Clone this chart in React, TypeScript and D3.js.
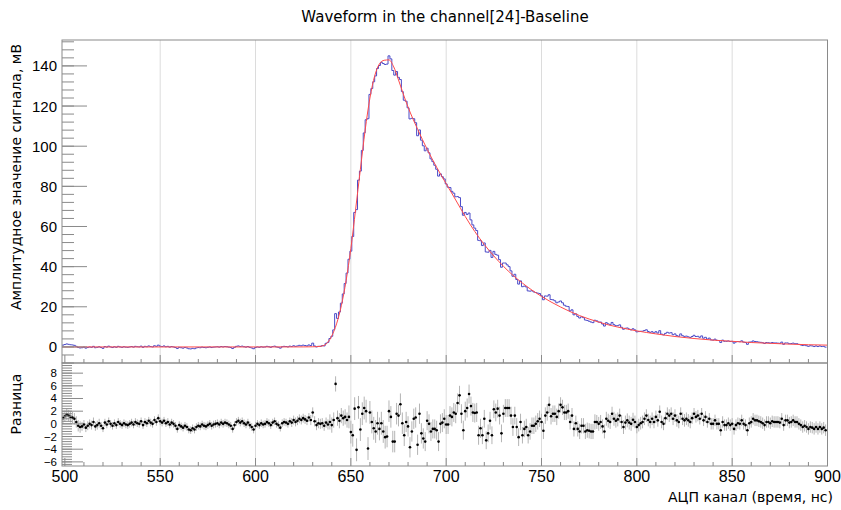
import React from "react";
import * as d3 from "d3";

// ---------------- data ----------------
const BIN_FIRST_CENTER = 499; // bins are 1 ns wide, centred on integers 499..899

const histValues: number[] = [
  0.9, 1.2, 1.5, 1.3, 1.1, 1.0, 0.8, 0.3, -0.3, -0.5,
  -0.4, -0.1, -0.6, -0.3, 0.0, -0.2, 0.3, -0.4, -0.2, 0.1,
  -0.3, -0.7, 0.2, -0.1, 0.4, 0.0, -0.3, 0.1, -0.2, 0.3,
  0.0, -0.2, 0.1, -0.1, -0.2, 0.0, 0.2, -0.1, 0.3, 0.1,
  0.0, 0.4, -0.2, 0.3, 0.1, 0.5, 0.2, 0.0, 0.6, 0.3,
  0.9, 0.4, 0.2, 0.5, 0.1, 0.3, -0.1, 0.2, 0.0, -0.3,
  -0.8, -0.2, -0.4, -0.6, -0.3, -0.5, -0.9, -1.0, -0.7, -0.9,
  -0.5, -0.3, -0.4, -0.1, -0.3, -0.4, -0.2, 0.0, -0.3, -0.1,
  0.0, 0.1, -0.1, 0.2, 0.0, 0.2, 0.1, -0.1, -0.3, -0.8,
  -0.2, 0.3, 0.5, 0.2, 0.4, 0.1, -0.1, 0.2, -0.2, -0.5,
  -0.9, -0.3, 0.0, -0.2, 0.1, -0.1, 0.0, 0.3, 0.1, -0.2,
  0.2, 0.4, 0.0, -0.2, -0.6, 0.1, 0.3, 0.2, 0.0, 0.4,
  0.2, 0.6, 0.3, 0.5, 0.8, 0.6, 0.9, 0.7, 0.5, 1.0,
  0.7, 1.9, 0.5, 0.0, 0.3, 0.3, 0.65, 0.5, 1.8, 2.3,
  4.2, 5.3, 8.5, 16.6, 14.2, 17.4, 21.8, 26.4, 31.6, 36.8,
  43.7, 47.7, 55.0, 67.0, 68.4, 83.1, 87.6, 97.9, 106.6, 113.2,
  113.7, 125.8, 128.7, 132.1, 135.0, 138.7, 140.2, 141.8, 141.2, 140.7,
  140.9, 145.0, 143.5, 137.7, 135.4, 137.2, 134.3, 133.2, 127.2, 122.9,
  122.4, 119.1, 113.6, 113.9, 113.7, 111.7, 105.2, 108.1, 103.0, 100.2,
  97.7, 99.0, 96.7, 93.7, 92.3, 90.5, 88.5, 85.1, 86.2, 84.8,
  83.7, 81.2, 79.6, 79.4, 77.5, 76.6, 74.8, 74.9, 74.4, 69.9,
  65.6, 67.0, 66.0, 66.7, 63.3, 60.8, 59.2, 58.0, 53.1, 52.9,
  50.5, 51.8, 47.3, 47.2, 48.1, 44.6, 47.6, 46.1, 45.7, 43.5,
  39.7, 41.8, 41.8, 40.9, 40.0, 37.9, 35.2, 36.2, 33.6, 31.3,
  32.9, 30.0, 30.3, 29.9, 27.9, 27.8, 28.0, 27.4, 27.1, 26.8,
  26.6, 25.5, 23.5, 25.4, 25.3, 26.0, 23.6, 23.5, 23.0, 22.0,
  22.4, 22.9, 22.0, 20.8, 20.3, 20.1, 17.9, 18.5, 16.0, 16.5,
  15.2, 14.4, 15.0, 14.6, 13.4, 13.2, 12.8, 12.4, 12.1, 13.3,
  13.0, 12.4, 12.4, 11.4, 10.4, 12.1, 11.5, 11.1, 12.2, 11.1,
  10.6, 10.6, 11.0, 9.8, 8.8, 9.3, 9.45, 8.9, 8.5, 9.05,
  8.5, 7.5, 7.65, 7.8, 7.85, 8.2, 8.55, 7.7, 7.25, 7.6,
  6.95, 7.6, 6.9, 8.1, 6.4, 6.0, 6.75, 7.3, 6.9, 7.1,
  6.1, 6.5, 5.65, 5.3, 6.5, 5.6, 5.25, 5.4, 5.05, 4.7,
  5.2, 5.8, 5.2, 5.3, 4.8, 5.5, 4.35, 4.8, 3.9, 4.4,
  3.5, 3.4, 3.9, 3.3, 3.2, 2.2, 3.4, 2.8, 2.8, 3.0,
  2.7, 2.8, 1.9, 2.5, 2.7, 2.6, 3.05, 2.4, 2.2, 1.3,
  2.4, 2.5, 3.0, 2.7, 2.6, 2.4, 2.3, 2.1, 1.7, 2.2,
  2.1, 1.9, 2.2, 2.0, 2.0, 1.9, 1.8, 2.4, 1.3, 2.0,
  2.0, 1.6, 1.7, 1.9, 1.6, 1.6, 1.25, 1.0, 0.7, 0.9,
  0.6, 0.3, 0.6, 0.5, 0.2, 0.5, 0.2, 0.5, 0.2, 0.3,
  -0.1,
];

const residValues: number[] = [
  0.9, 1.2, 1.5, 1.3, 1.1, 1.0, 0.8, 0.3, -0.3, -0.5,
  -0.4, -0.1, -0.6, -0.3, 0.0, -0.2, 0.3, -0.4, -0.2, 0.1,
  -0.3, -0.7, 0.2, -0.1, 0.4, 0.0, -0.3, 0.1, -0.2, 0.3,
  0.0, -0.2, 0.1, -0.1, -0.2, 0.0, 0.2, -0.1, 0.3, 0.1,
  0.0, 0.4, -0.2, 0.3, 0.1, 0.5, 0.2, 0.0, 0.6, 0.3,
  0.9, 0.4, 0.2, 0.5, 0.1, 0.3, -0.1, 0.2, 0.0, -0.3,
  -0.8, -0.2, -0.4, -0.6, -0.3, -0.5, -0.9, -1.0, -0.7, -0.9,
  -0.5, -0.3, -0.4, -0.1, -0.3, -0.4, -0.2, 0.0, -0.3, -0.1,
  0.0, 0.1, -0.1, 0.2, 0.0, 0.2, 0.1, -0.1, -0.3, -0.8,
  -0.2, 0.3, 0.5, 0.2, 0.4, 0.1, -0.1, 0.2, -0.2, -0.5,
  -0.9, -0.3, 0.0, -0.2, 0.1, -0.1, 0.0, 0.3, 0.1, -0.2,
  0.2, 0.4, 0.0, -0.2, -0.6, 0.1, 0.3, 0.2, 0.0, 0.4,
  0.2, 0.6, 0.3, 0.5, 0.8, 0.6, 0.9, 0.7, 0.5, 1.0,
  0.6, 1.8, 0.4, -0.2, 0.1, 0.0, 0.1, -0.3, 0.2, -0.1,
  0.3, -0.2, 0.6, 6.3, 0.9, 0.5, 1.3, 0.9, 1.1, 0.6,
  1.1, -1.3, -1.8, 2.4, -4.1, 2.6, -0.9, 1.6, 2.5, 2.0,
  -3.9, 1.8, 0.3, -0.7, -1.2, 0.1, -0.8, 0.1, -1.2, -2.1,
  -2.0, 2.0, 1.1, -2.8, -2.8, 1.6, 1.3, 3.1, 0.1, -1.8,
  0.3, -0.4, -3.7, -1.2, 0.8, 1.0, -3.3, 1.6, -1.5, -2.3,
  -2.8, 0.5, 0.0, -1.2, -0.8, -0.8, -1.0, -2.8, 0.0, 0.2,
  0.8, -0.1, -0.1, 1.3, 1.1, 1.8, 1.6, 3.3, 4.5, 1.6,
  -1.0, 2.0, 2.5, 4.7, 2.8, 1.8, 1.7, 1.8, -1.8, -0.7,
  -1.8, 0.8, -2.6, -1.5, 0.5, -1.8, 2.3, 1.8, 2.4, 1.3,
  -1.5, 1.6, 2.5, 2.5, 2.5, 1.3, -0.5, 1.3, -0.5, -2.1,
  0.3, -1.8, -0.8, -0.5, -1.8, -1.2, -0.3, -0.3, 0.0, 0.4,
  0.8, 0.3, -1.1, 1.3, 1.8, 3.0, 1.2, 1.6, 1.6, 1.1,
  2.0, 3.0, 2.6, 1.8, 1.8, 2.0, 0.3, 1.3, -0.8, 0.1,
  -0.8, -1.2, -0.3, -0.3, -1.2, -1.0, -1.1, -1.2, -1.2, 0.3,
  0.3, 0.0, 0.3, -0.4, -1.2, 0.8, 0.5, 0.3, 1.6, 0.8,
  0.5, 0.7, 1.3, 0.3, -0.5, 0.2, 0.55, 0.2, 0.0, 0.65,
  0.3, -0.5, -0.2, 0.1, 0.3, 0.8, 1.3, 0.6, 0.3, 0.8,
  0.3, 1.1, 0.55, 1.9, 0.3, 0.0, 0.9, 1.6, 1.3, 1.6,
  0.8, 1.3, 0.55, 0.3, 1.6, 0.8, 0.55, 0.8, 0.55, 0.3,
  0.9, 1.6, 1.1, 1.3, 0.8, 1.6, 0.55, 1.1, 0.3, 0.8,
  0.0, 0.0, 0.55, 0.0, 0.0, -1.0, 0.3, -0.2, -0.2, 0.1,
  -0.2, 0.0, -0.8, -0.2, 0.1, 0.0, 0.55, 0.0, -0.2, -1.0,
  0.1, 0.3, 0.8, 0.55, 0.55, 0.4, 0.3, 0.1, -0.2, 0.3,
  0.3, 0.1, 0.4, 0.3, 0.3, 0.3, 0.2, 0.8, -0.2, 0.55,
  0.55, 0.2, 0.3, 0.55, 0.3, 0.3, 0.0, -0.2, -0.5, -0.3,
  -0.5, -0.8, -0.5, -0.6, -0.8, -0.5, -0.8, -0.5, -0.8, -0.6,
  -1.0,
];

// error bar half-length of the residuals, one value per block of 10 bins
const residErrorBlocks: number[] = [
  0.9, 0.7, 0.6, 0.6, 0.6, 0.6, 0.6, 0.6, 0.6, 0.6,
  0.6, 0.6, 0.7, 0.8, 1.2, 1.8, 1.8, 1.7, 1.6, 1.5,
  1.5, 1.5, 1.4, 1.4, 1.3, 1.3, 1.2, 1.2, 1.1, 1.1,
  1.0, 1.0, 1.0, 0.9, 0.9, 0.9, 0.9, 0.9, 0.9, 0.9,
  0.9,
];

// fitted curve, sampled points (time, amplitude)
const fitX: number[] = [
  498.5, 520, 560, 600, 625, 630, 632, 634, 636, 638, 640, 642.5, 645, 647.5,
  650, 652.5, 655, 657.5, 660, 662.5, 665, 667.5, 670, 672.5, 675, 677.5, 680,
  685, 690, 695, 700, 705, 710, 715, 720, 725, 730, 735, 740, 745, 750, 755,
  760, 765, 770, 775, 780, 785, 790, 795, 800, 810, 820, 830, 840, 850, 860,
  870, 880, 890, 900,
];
const fitY: number[] = [
  0, 0, 0, 0, 0.02, 0.08, 0.15, 0.3, 0.8, 2.4, 5.5, 11.5, 20.5, 33,
  49, 68.5, 88.5, 108, 124, 135, 141, 142.8, 143, 139.5, 133, 126, 119.5,
  108.5, 98.5, 89.5, 81.3, 73.2, 65, 57.5, 51, 45.3, 40.2, 35.7, 31.8, 28.3, 25.2, 22.4,
  19.9, 17.6, 15.6, 13.9, 12.4, 11.0, 9.9, 8.9, 8.0, 6.5, 5.2, 4.2, 3.4, 2.8, 2.2,
  1.8, 1.4, 1.1, 0.9,
];

const xTickValues = [500, 550, 600, 650, 700, 750, 800, 850, 900];
const yTopTickValues = [0, 20, 40, 60, 80, 100, 120, 140];
const yBotTickValues = [-6, -4, -2, 0, 2, 4, 6, 8];

const TITLE = "Waveform in the channel[24]-Baseline";
const Y_TITLE_TOP = "Амплитудное значение сигнала, мВ";
const Y_TITLE_BOT = "Разница";
const X_TITLE = "АЦП канал (время, нс)";

// ---------------- chart ----------------
const W = 841;
const H = 510;
const LEFT = 62;
const RIGHT = 827.5;
const TOP = 40;
const MID = 363;
const BOTTOM = 466;

const AXIS = "#8a8a8a";
const GRID = "#dcdcdc";
const TICK_FONT = "'Liberation Sans', Arial, sans-serif";
const TITLE_FONT = "'DejaVu Sans', sans-serif";

export default function App() {
  const x = d3.scaleLinear().domain([498.5, 900]).range([LEFT, RIGHT]);
  const yT = d3.scaleLinear().domain([-8, 152.9]).range([MID, TOP]);
  const yB = d3.scaleLinear().domain([-6.65, 9.6]).range([BOTTOM, MID]);

  const histPts: [number, number][] = histValues.map((v, i) => [BIN_FIRST_CENTER + i - 0.5, v]);
  histPts.push([BIN_FIRST_CENTER + histValues.length - 0.5, histValues[histValues.length - 1]]);
  const histPath =
    d3.line<[number, number]>().x((d) => x(d[0])).y((d) => yT(d[1])).curve(d3.curveStepAfter)(histPts) || "";

  const fitPts: [number, number][] = fitX.map((t, i) => [t, fitY[i]]);
  const fitPath =
    d3.line<[number, number]>().x((d) => x(d[0])).y((d) => yT(d[1])).curve(d3.curveMonotoneX)(fitPts) || "";

  const xMinor = d3.range(50, 91).map((k) => k * 10);
  const yTopMinor = d3.range(-2, 39).map((k) => k * 4);
  const yBotMinor = d3.range(-16, 24).map((k) => +(k * 0.4).toFixed(1));
  const gridXs = xTickValues.filter((v) => v > 500 && v < 900);

  const fmt = (v: number) => (v < 0 ? "\u2212" + Math.abs(v) : String(v));

  return (
    <svg
      width={W}
      height={H}
      viewBox={`0 0 ${W} ${H}`}
      style={{ position: "absolute", left: 0, top: 0, background: "#fff" }}
    >
      <defs>
        <clipPath id="clipTop">
          <rect x={LEFT} y={TOP} width={RIGHT - LEFT} height={MID - TOP} />
        </clipPath>
        <clipPath id="clipBot">
          <rect x={LEFT} y={MID} width={RIGHT - LEFT} height={BOTTOM - MID} />
        </clipPath>
      </defs>
      <rect x={0} y={0} width={W} height={H} fill="#fff" />

      {/* title */}
      <text x={445} y={22} textAnchor="middle" fontFamily={TITLE_FONT} fontSize={15} fill="#000">
        {TITLE}
      </text>

      {/* vertical grid */}
      {gridXs.map((v) => (
        <line key={"g" + v} x1={x(v)} x2={x(v)} y1={TOP} y2={BOTTOM} stroke={GRID} strokeWidth={1} />
      ))}

      {/* top panel data */}
      <g clipPath="url(#clipTop)">
        <path d={histPath} fill="none" stroke="#4a4ac8" strokeWidth={1} />
        <path d={fitPath} fill="none" stroke="#ff4a4a" strokeWidth={1} />
      </g>

      {/* bottom panel data */}
      <g clipPath="url(#clipBot)">
        {residValues.map((v, i) => {
          const t = BIN_FIRST_CENTER + i;
          const e = residErrorBlocks[Math.floor(i / 10)];
          return (
            <line
              key={"e" + i}
              x1={x(t)}
              x2={x(t)}
              y1={yB(v - e)}
              y2={yB(v + e)}
              stroke="#b4b4b4"
              strokeWidth={1}
            />
          );
        })}
        {residValues.map((v, i) => (
          <circle key={"p" + i} cx={x(BIN_FIRST_CENTER + i)} cy={yB(v)} r={1.3} fill="#000" />
        ))}
      </g>

      {/* frames */}
      <rect x={LEFT} y={TOP} width={RIGHT - LEFT} height={MID - TOP} fill="none" stroke={AXIS} strokeWidth={1} />
      <rect x={LEFT} y={MID} width={RIGHT - LEFT} height={BOTTOM - MID} fill="none" stroke={AXIS} strokeWidth={1} />

      {/* top panel y ticks */}
      {yTopMinor.map((v) => (
        <line key={"tm" + v} x1={LEFT} x2={LEFT + 12} y1={yT(v)} y2={yT(v)} stroke={AXIS} strokeWidth={1} />
      ))}
      {yTopTickValues.map((v) => (
        <g key={"tM" + v}>
          <line x1={LEFT} x2={LEFT + 25} y1={yT(v)} y2={yT(v)} stroke={AXIS} strokeWidth={1} />
          <text x={57} y={yT(v) + 5.5} textAnchor="end" fontFamily={TICK_FONT} fontSize={15} fill="#000">
            {fmt(v)}
          </text>
        </g>
      ))}

      {/* bottom panel y ticks */}
      {yBotMinor.map((v) => (
        <line key={"bm" + v} x1={LEFT} x2={LEFT + 10} y1={yB(v)} y2={yB(v)} stroke={AXIS} strokeWidth={1} />
      ))}
      {yBotTickValues.map((v) => (
        <g key={"bM" + v}>
          <line x1={LEFT} x2={LEFT + 21} y1={yB(v)} y2={yB(v)} stroke={AXIS} strokeWidth={1} />
          <text x={57} y={yB(v) + 4} textAnchor="end" fontFamily={TICK_FONT} fontSize={11.5} fill="#000">
            {fmt(v)}
          </text>
        </g>
      ))}

      {/* x ticks: shared edge and bottom */}
      {xMinor.map((v) => {
        const major = v % 50 === 0;
        const len = major ? 8 : 4;
        return (
          <g key={"x" + v}>
            <line x1={x(v)} x2={x(v)} y1={MID} y2={MID - len} stroke={AXIS} strokeWidth={1} />
            <line x1={x(v)} x2={x(v)} y1={BOTTOM} y2={BOTTOM - len} stroke={AXIS} strokeWidth={1} />
          </g>
        );
      })}
      {xTickValues.map((v) => (
        <text key={"xl" + v} x={x(v)} y={482} textAnchor="middle" fontFamily={TICK_FONT} fontSize={16} fill="#000">
          {v}
        </text>
      ))}

      {/* axis titles */}
      <text x={833} y={502} textAnchor="end" fontFamily={TITLE_FONT} fontSize={14} fill="#000">
        {X_TITLE}
      </text>
      <text
        transform={`translate(21,44) rotate(-90)`}
        textAnchor="end"
        fontFamily={TITLE_FONT}
        fontSize={14}
        fill="#000"
      >
        {Y_TITLE_TOP}
      </text>
      <text
        transform={`translate(21,404) rotate(-90)`}
        textAnchor="middle"
        fontFamily={TITLE_FONT}
        fontSize={14}
        fill="#000"
      >
        {Y_TITLE_BOT}
      </text>
    </svg>
  );
}
